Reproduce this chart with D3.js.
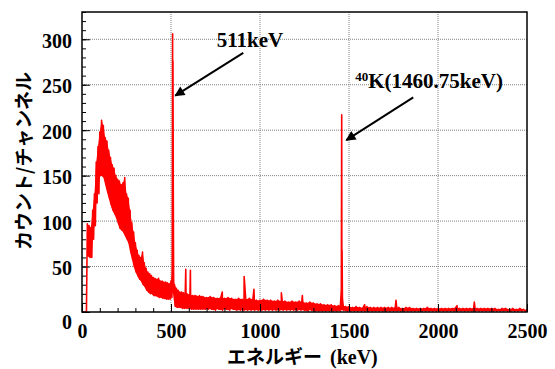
<!DOCTYPE html>
<html>
<head>
<meta charset="utf-8">
<script src="https://cdn.jsdelivr.net/npm/d3@7"></script>
<style>
  body { margin: 0; background: #fff; }
  .grid line { stroke: #808080; stroke-width: 1; stroke-dasharray: 1,1; }
</style>
</head>
<body>
<div id="chart"></div>
<script>
// spectrum envelope, low energy part: 10 keV bins starting at 0 keV
const binStartA = 0, binStepA = 10;
const hiA = [
  0, 0, 0, 97, 95, 93, 112, 130, 165, 182,
  198, 211, 205, 192, 188, 178, 170, 162, 158, 150,
  146, 144, 140, 142, 148, 130, 125, 112, 98, 88,
  76, 68, 62, 60, 66, 54, 48, 44, 42, 40,
  38, 37, 36, 37, 34, 34, 33, 33, 32, 31,
  34, 45, 30, 26, 24, 22, 22, 21, 20, 20,
  19, 19, 18, 18, 18, 17, 18, 17, 17, 16
];
const loA = [
  0, 0, 0, 62, 60, 60, 80, 95, 120, 130,
  150, 150, 148, 140, 132, 125, 118, 112, 108, 104,
  98, 92, 90, 88, 84, 80, 76, 66, 58, 50,
  44, 40, 36, 34, 30, 28, 24, 22, 20, 20,
  18, 18, 17, 16, 16, 15, 15, 14, 14, 14,
  16, 22, 6, 5, 5, 5, 4, 4, 4, 4,
  4, 3, 3, 3, 3, 3, 3, 3, 3, 3
];

// high energy part: 20 keV bins starting at 700 keV
const binStartB = 700, binStepB = 20;
const hiB = [
  16, 17, 16, 15, 16, 15, 16, 15, 14, 15,
  14, 14, 15, 14, 13, 13, 14, 13, 13, 12,
  13, 12, 12, 11, 12, 11, 12, 11, 10, 11,
  10, 9, 9, 8, 8, 8, 7, 7, 8, 6,
  6, 5, 6, 5, 5, 6, 5, 5, 5, 5,
  5, 5, 5, 5, 5, 4, 5, 5, 4, 4,
  4, 4, 5, 4, 4, 4, 4, 4, 4, 4,
  5, 4, 4, 4, 4, 4, 4, 4, 4, 4,
  4, 4, 3, 4, 4, 3, 4, 3, 4, 3
];
const loB = [
  3, 3, 2, 3, 2, 3, 2, 3, 2, 2,
  2, 2, 2, 2, 2, 2, 2, 2, 2, 2,
  2, 2, 2, 2, 2, 2, 2, 2, 1, 2,
  1, 1, 1, 1, 1, 1, 1, 1, 2, 1,
  1, 1, 1, 1, 1, 1, 1, 1, 1, 1,
  1, 1, 1, 1, 1, 1, 1, 1, 1, 1,
  1, 1, 1, 1, 1, 1, 1, 1, 1, 1,
  1, 1, 1, 1, 1, 1, 1, 1, 1, 1,
  1, 1, 1, 1, 1, 1, 1, 1, 1, 1
];

// single channel lines / photopeaks
const lineEnergies = [507, 509, 511, 513, 583, 609, 788, 911, 966, 1120, 1238, 1457, 1459, 1461, 1463, 1588, 1764, 2107, 2204];
const lineCounts   = [60, 306, 276, 120, 47, 46, 22, 39, 25, 21, 18, 25, 217, 68, 15, 8, 13, 7, 11];

const xTicks = [0, 500, 1000, 1500, 2000, 2500];
const yTicks = [0, 50, 100, 150, 200, 250, 300];

// annotations: label position and arrow (from -> to) in data units
const annotTexts = ['511keV', 'K(1460.75keV)'];
const annotSups = ['', '40'];
const annotPos = [[757, 291], [1535, 246]];
const arrowFrom = [[906, 285], [1861, 236]];
const arrowTo = [[524, 238], [1485, 189]];

const W = 555, H = 369;
const margin = { top: 12, right: 28, bottom: 57, left: 82 };
const width = W - margin.left - margin.right;
const height = H - margin.top - margin.bottom;
const serif = "'Liberation Serif', 'Times New Roman', serif";
const cjk = "'Noto Sans CJK JP', sans-serif";

const svg = d3.select('#chart').append('svg')
  .attr('width', W)
  .attr('height', H);

const chart = svg.append('g')
  .attr('transform', `translate(${margin.left},${margin.top})`);

const x = d3.scaleLinear().domain([0, 2500]).range([0, width]);
const y = d3.scaleLinear().domain([0, 330]).range([height, 0]);

// grid
chart.append('g').attr('class', 'grid')
  .selectAll('line.gx').data(xTicks.slice(1, -1)).enter().append('line')
  .attr('x1', d => x(d)).attr('x2', d => x(d))
  .attr('y1', 0).attr('y2', height);
chart.select('.grid')
  .selectAll('line.gy').data(yTicks.slice(1)).enter().append('line')
  .attr('x1', 0).attr('x2', width)
  .attr('y1', d => y(d)).attr('y2', d => y(d));

// bins as [energy, hi, lo]
let bins = [];
hiA.forEach((h, i) => bins.push([binStartA + i * binStepA, h, loA[i]]));
hiB.forEach((h, i) => bins.push([binStartB + i * binStepB, h, loB[i]]));

// zigzag path: high value at bin edge, low value half a bin later
let pts = [];
hiA.forEach((h, i) => {
  const e = binStartA + i * binStepA;
  pts.push([e, h]);
  pts.push([e + binStepA / 2, loA[i]]);
});
hiB.forEach((h, i) => {
  const e = binStartB + i * binStepB;
  pts.push([e, h]);
  pts.push([e + binStepB / 2, loB[i]]);
});
lineEnergies.forEach((e, i) => pts.push([e, lineCounts[i]]));
pts.push([2500, 3]);
pts.sort((a, b) => a[0] - b[0]);

// filled band between the envelopes
const band = d3.area()
  .x(d => x(d[0]))
  .y0(d => y(d[2]))
  .y1(d => y(d[1]));

chart.append('path')
  .datum(bins.filter(d => d[0] >= 30))
  .attr('d', band)
  .attr('fill', '#ff0000');

const line = d3.line()
  .x(d => x(d[0]))
  .y(d => y(d[1]));

chart.append('path')
  .datum(pts)
  .attr('d', line)
  .attr('fill', 'none')
  .attr('stroke', '#ff0000')
  .attr('stroke-width', 1.6)
  .attr('stroke-linejoin', 'round');

// axes, ticks pointing inward
const xMinor = d3.range(0, 2501, 100);
const yMinor = d3.range(0, 331, 10);

chart.append('g')
  .attr('transform', `translate(0,${height})`)
  .call(d3.axisBottom(x).tickValues(xMinor).tickSize(-4).tickFormat(''))
  .call(g => g.select('.domain').remove());

chart.append('g')
  .call(d3.axisLeft(y).tickValues(yMinor).tickSize(-4).tickFormat(''))
  .call(g => g.select('.domain').remove());

const xAxis = chart.append('g')
  .attr('transform', `translate(0,${height})`)
  .call(d3.axisBottom(x).tickValues(xTicks).tickSizeInner(-8).tickSizeOuter(0).tickPadding(12).tickFormat(d3.format('d')))
  .call(g => g.select('.domain').remove());

const yAxis = chart.append('g')
  .call(d3.axisLeft(y).tickValues(yTicks).tickSizeInner(-8).tickSizeOuter(0).tickPadding(10).tickFormat(d3.format('d')))
  .call(g => g.select('.domain').remove());
yAxis.selectAll('.tick text').attr('dy', d => d === 0 ? '0.8em' : '0.4em');

[xAxis, yAxis].forEach(a => {
  a.attr('font-family', null).attr('font-size', null);
  a.selectAll('.tick text')
    .style('font-family', serif)
    .style('font-weight', 'bold')
    .style('font-size', '20px')
    .style('fill', '#000');
});

// frame
chart.append('rect')
  .attr('width', width)
  .attr('height', height)
  .attr('fill', 'none')
  .attr('stroke', '#000')
  .attr('stroke-width', 1.5);

// axis titles
svg.append('text')
  .attr('transform', `translate(22,${margin.top + 149}) rotate(-90)`)
  .attr('text-anchor', 'middle')
  .attr('dominant-baseline', 'central')
  .style('font-family', cjk)
  .style('font-weight', 'bold')
  .style('font-size', '19px')
  .text('カウント/チャンネル');

const xt = svg.append('text')
  .attr('x', 227)
  .attr('y', 364);
xt.append('tspan')
  .style('font-family', cjk)
  .style('font-weight', 'bold')
  .style('font-size', '19px')
  .text('エネルギー');
xt.append('tspan')
  .attr('dx', 8)
  .style('font-family', serif)
  .style('font-weight', 'bold')
  .style('font-size', '20px')
  .text('(keV)');

// annotations
svg.append('defs').append('marker')
  .attr('id', 'arrow')
  .attr('viewBox', '0 0 10 10')
  .attr('refX', 9).attr('refY', 5)
  .attr('markerWidth', 6).attr('markerHeight', 5)
  .attr('markerUnits', 'strokeWidth')
  .attr('orient', 'auto')
  .append('path')
  .attr('d', 'M0,0 L10,5 L0,10 z')
  .attr('fill', '#000');

annotTexts.forEach((t, i) => {
  chart.append('line')
    .attr('x1', x(arrowFrom[i][0])).attr('y1', y(arrowFrom[i][1]))
    .attr('x2', x(arrowTo[i][0])).attr('y2', y(arrowTo[i][1]))
    .attr('stroke', '#000')
    .attr('stroke-width', 2)
    .attr('marker-end', 'url(#arrow)');

  const label = chart.append('text')
    .attr('x', x(annotPos[i][0]))
    .attr('y', y(annotPos[i][1]))
    .style('font-family', serif)
    .style('font-weight', 'bold')
    .style('font-size', '21px');
  if (annotSups[i]) {
    label.append('tspan')
      .attr('dy', -7)
      .style('font-size', '13px')
      .text(annotSups[i]);
    label.append('tspan')
      .attr('dy', 7)
      .text(t);
  } else {
    label.text(t);
  }
});
</script>
</body>
</html>
